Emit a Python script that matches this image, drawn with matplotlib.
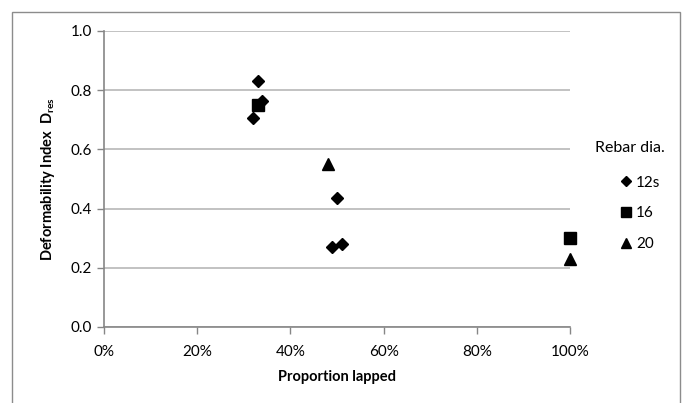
import matplotlib.pyplot as plt
from matplotlib.patches import Rectangle

# values
x_12s = [0.33, 0.34, 0.32, 0.50, 0.49, 0.51]
y_12s = [0.83, 0.765, 0.705, 0.435, 0.27, 0.28]
x_16 = [0.33, 1.00]
y_16 = [0.75, 0.30]
x_20 = [0.48, 1.00]
y_20 = [0.55, 0.23]

xticks = [0, 0.2, 0.4, 0.6, 0.8, 1.0]
xlabels = ['0%', '20%', '40%', '60%', '80%', '100%']
yticks = [0.0, 0.2, 0.4, 0.6, 0.8, 1.0]

plt.rcParams['font.family'] = ['Lato', 'DejaVu Sans']
plt.rcParams['mathtext.default'] = 'regular'

W, H = 691, 403
fig = plt.figure(figsize=(W / 100, H / 100), dpi=100)
ax = fig.add_axes([104 / W, 1 - 327 / H, (570 - 104) / W, (327 - 31) / H])

# outer chart frame
fig.patches.append(Rectangle((12 / W, -0.05), (680 - 12) / W, 1.05 - 12 / H,
                             transform=fig.transFigure, fill=False,
                             edgecolor='#8c8c8c', linewidth=1.0))

ax.plot(x_12s, y_12s, 'D', color='black', markersize=6, label='12s', clip_on=False)
ax.plot(x_16, y_16, 's', color='black', markersize=8.5, label='16', clip_on=False)
ax.plot(x_20, y_20, '^', color='black', markersize=8.5, label='20', clip_on=False)

ax.set_xlim(0, 1.0)
ax.set_ylim(0, 1.0)
ax.set_xticks(xticks)
ax.set_xticklabels(xlabels)
ax.set_yticks(yticks)
ax.set_yticklabels([f'{v:.1f}' for v in yticks])
ax.yaxis.grid(True, color='#b8b8b8', linewidth=1.2)
ax.set_axisbelow(True)
for s in ['top', 'right']:
    ax.spines[s].set_visible(False)
for s in ['left', 'bottom']:
    ax.spines[s].set_color('#868686')
    ax.spines[s].set_linewidth(1.2)
ax.tick_params(colors='#868686', labelcolor='black', labelsize=11, length=5, width=1)
ax.tick_params(axis='x', pad=8)

ax.set_xlabel('Proportion lapped', fontsize=10.5, fontweight='bold', labelpad=8)
ax.set_ylabel('Deformability Index  D$_{res}$', fontsize=10.5, fontweight='bold', labelpad=10)

fig.text(595 / W, 1 - 148 / H, 'Rebar dia.', fontsize=11.5, va='center', ha='left')
ax.legend(loc='upper left', bbox_to_anchor=(614 / W, 1 - 168 / H),
          bbox_transform=fig.transFigure, frameon=False, fontsize=11,
          handlelength=0.6, handletextpad=0.35, labelspacing=1.1, borderpad=0,
          markerscale=0.85)

fig.savefig('out.png', dpi=100)
